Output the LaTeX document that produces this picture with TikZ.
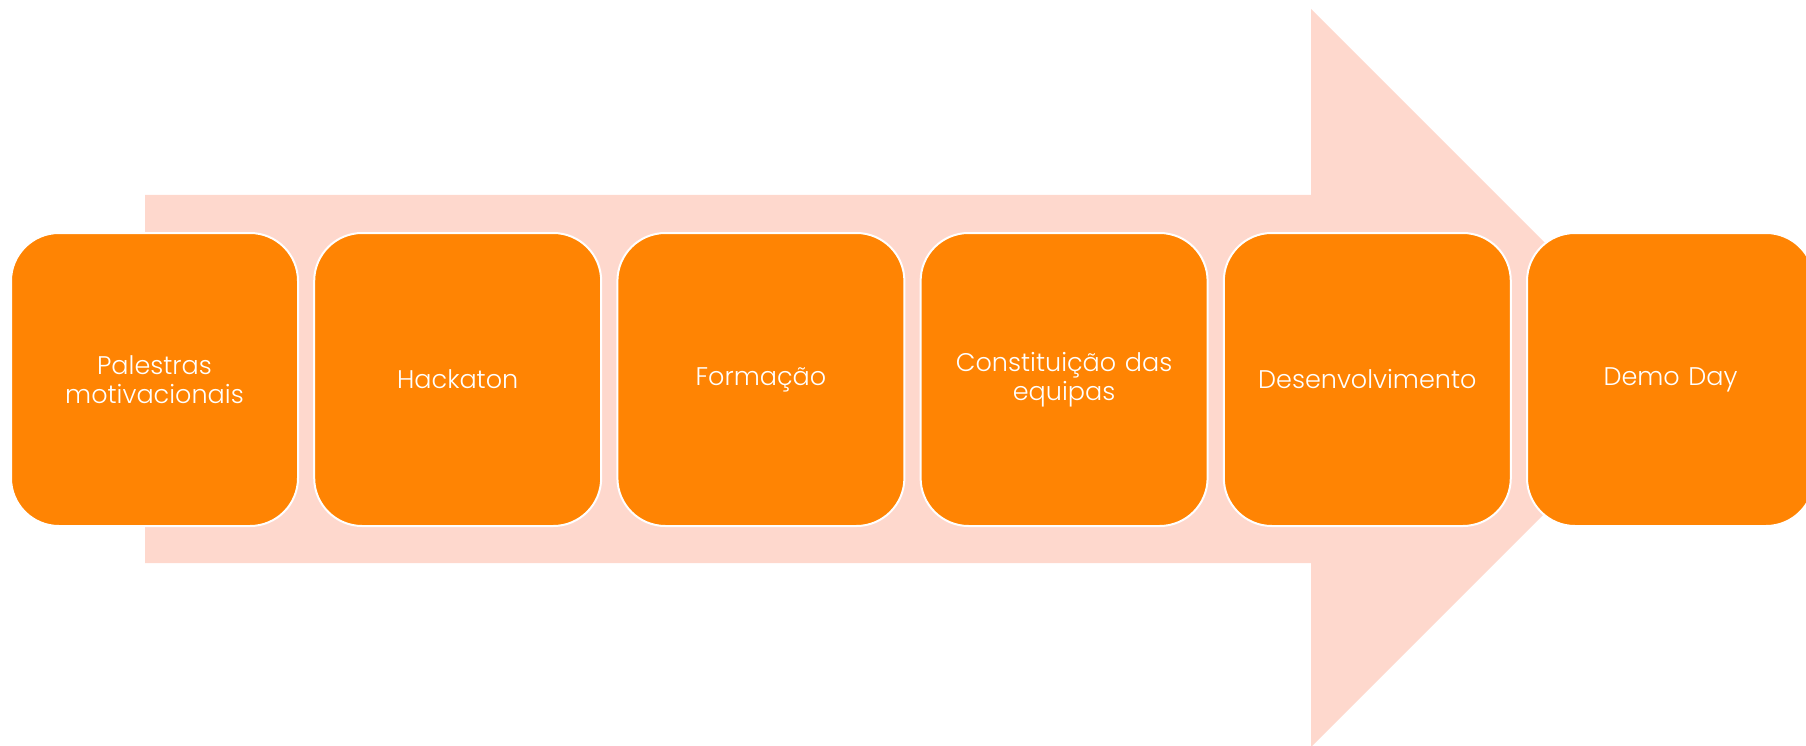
\documentclass[tikz,border=0pt]{standalone}
\usepackage{fontspec}
\setmainfont{Poppins Light}
\definecolor{stageorange}{HTML}{FF8403}
\definecolor{arrowpink}{HTML}{FED8CD}
\begin{document}
\begin{tikzpicture}[x=1pt,y=-1pt,
  stagebox/.style={draw=white, line width=2pt, fill=stageorange, rounded corners=48pt,
    minimum width=287pt, minimum height=293pt, inner sep=0pt, text=white,
    align=center, font=\fontsize{25.5pt}{29pt}\selectfont, text width=270pt}]
\useasboundingbox (0,0) rectangle (1806,746);
\clip (0,0) rectangle (1806,746);
\fill[arrowpink] (145,195) -- (1311,195) -- (1311,9) -- (1680,378) -- (1311,747) -- (1311,563) -- (145,563) -- cycle;
\node[stagebox] (s1) at (154.5,379.5) {Palestras\\motivacionais};
\node[stagebox] (s2) at (457.7,379.5) {Hackaton};
\node[stagebox] (s3) at (760.9,379.5) {Formação};
\node[stagebox] (s4) at (1064.1,379.5) {Constituição das\\equipas};
\node[stagebox] (s5) at (1367.3,379.5) {Desenvolvimento};
\node[stagebox] (s6) at (1670.5,379.5) {Demo Day};
\end{tikzpicture}
\end{document}
